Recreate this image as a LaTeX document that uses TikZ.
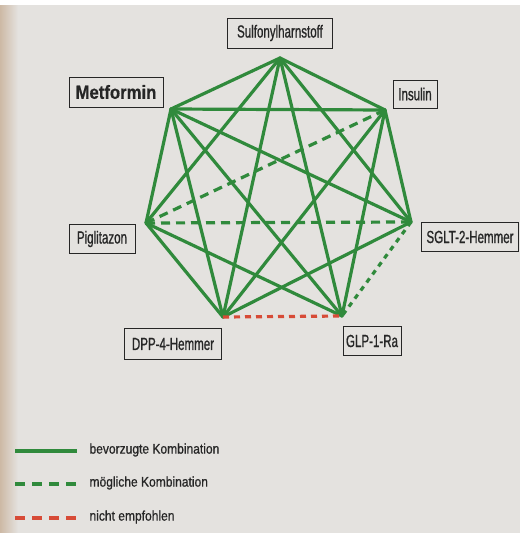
\documentclass[tikz,border=0pt]{standalone}
\usepackage{fontspec}
\setmainfont{Liberation Sans}[FakeStretch=0.66, FakeBold=0.8]
\newfontfamily\legfont{Liberation Sans}[FakeStretch=0.86, FakeBold=0.8]
\newfontfamily\metfont{Liberation Sans}[FakeStretch=0.88, FakeBold=0.5]
\definecolor{pagebg}{RGB}{228,226,223}
\definecolor{pagetan}{RGB}{205,185,165}
\definecolor{lgreen}{RGB}{48,138,60}
\definecolor{lred}{RGB}{215,75,55}
\tikzset{
  lbl/.style={draw=black!85, line width=0.9pt, inner xsep=3pt, inner ysep=4pt, font=\fontsize{17.5}{19}\selectfont, text=black!85},
  pref/.style={draw=lgreen, line width=3.2pt, line cap=round},
  poss/.style={draw=lgreen, line width=3.2pt, dash pattern=on 9pt off 6pt},
  possb/.style={draw=lgreen, line width=3.2pt, dash pattern=on 5pt off 5pt},
  notrec/.style={draw=lred, line width=3.2pt, dash pattern=on 6pt off 5pt},
  legtext/.style={anchor=west, font=\legfont\fontsize{14}{16}\selectfont, text=black!85}
}
\begin{document}
\begin{tikzpicture}[x=1pt,y=-1pt]
\useasboundingbox (0,0) rectangle (520,533);
\fill[pagebg] (0,0) rectangle (520,533);
\shade[left color=pagetan, right color=pagebg] (0,5) rectangle (18,533);
\fill[white] (0,0) rectangle (520,5);
% vertices
\coordinate (S) at (280,58);
\coordinate (M) at (171,109);
\coordinate (I) at (385,110);
\coordinate (P) at (146,223);
\coordinate (G) at (411,222);
\coordinate (D) at (223,317);
\coordinate (L) at (342,316);
% solid edges
\foreach \a/\b in {S/M,S/I,S/P,S/G,S/D,S/L,M/I,M/P,M/G,M/D,M/L,I/G,I/D,I/L,P/D,P/L,D/G}
  \draw[pref] (\a) -- (\b);
% dashed edges
\draw[poss] (P) -- (I);
\draw[poss] (P) -- (G);
\draw[possb] (G) -- (L);
\draw[notrec] (D) -- (L);
% labels
\node[lbl, minimum width=105pt, minimum height=30pt] (nS) at (280,33) {Sulfonylharnstoff};
\node[lbl, minimum width=94pt, minimum height=30pt, font=\metfont\fontsize{19}{21}\selectfont\bfseries] (nM) at (116,92) {Metformin};
\node[lbl, minimum width=44pt, minimum height=28pt] (nI) at (415,94) {Insulin};
\node[lbl, minimum width=66pt, minimum height=29pt] (nP) at (102,239) {Piglitazon};
\node[lbl, minimum width=97pt, minimum height=29pt] (nG) at (470,237) {SGLT-2-Hemmer};
\node[lbl, minimum width=97pt, minimum height=31pt] (nD) at (173,344) {DPP-4-Hemmer};
\node[lbl, minimum width=58pt, minimum height=29pt] (nL) at (372,341) {GLP-1-Ra};
% legend
\coordinate (a1) at (15,451); \coordinate (b1) at (77,451);
\coordinate (a2) at (15,484); \coordinate (b2) at (77,484);
\coordinate (a3) at (15,518); \coordinate (b3) at (77,518);
\draw[pref, line cap=butt] (a1) -- (b1);
\draw[poss, dash pattern=on 10pt off 7pt] (a2) -- (b2);
\draw[notrec, dash pattern=on 10pt off 7pt] (a3) -- (b3);
\node[legtext] (t1) at (86,450) {bevorzugte Kombination};
\node[legtext] (t2) at (86,483) {mögliche Kombination};
\node[legtext] (t3) at (86,517) {nicht empfohlen};
\end{tikzpicture}
\end{document}
